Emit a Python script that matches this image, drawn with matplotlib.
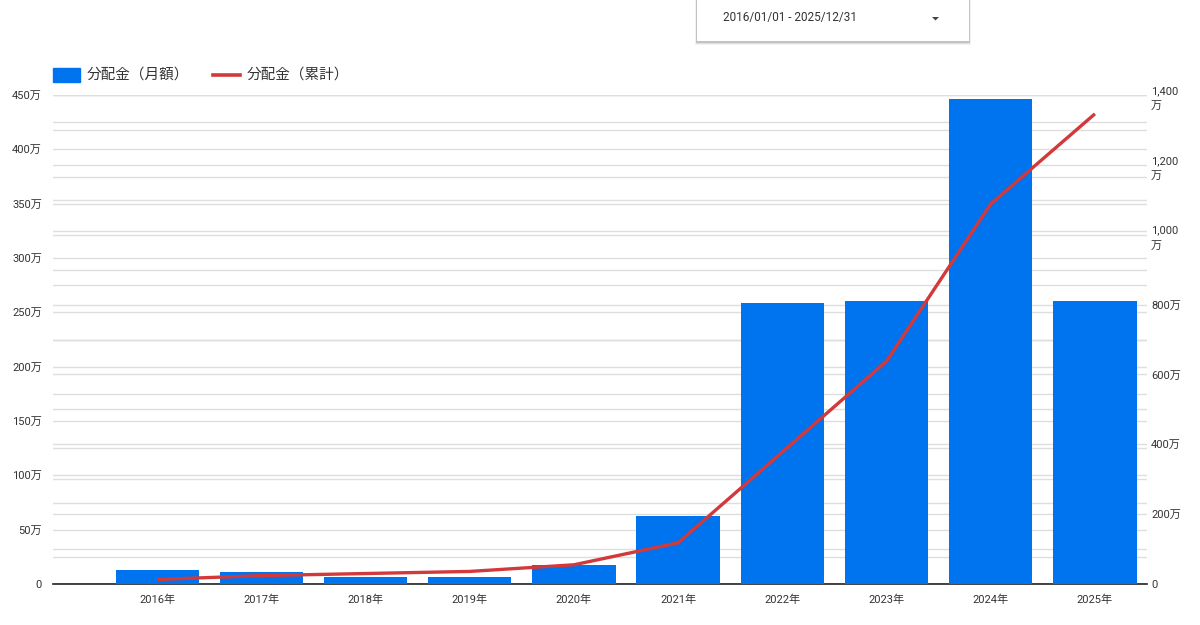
import matplotlib.pyplot as plt
from matplotlib.patches import Rectangle, Polygon
from matplotlib.ticker import MultipleLocator, FuncFormatter
import numpy as np

plt.rcParams['font.family'] = ['Roboto', 'Noto Sans CJK JP', 'DejaVu Sans']

# data (units: 万円)
years = ['2016年', '2017年', '2018年', '2019年', '2020年',
         '2021年', '2022年', '2023年', '2024年', '2025年']
monthly = [12.5, 11.5, 6, 6, 17.5, 62.5, 259, 260.5, 446, 260.5]
cumulative = [13, 24, 30, 36, 55, 118, 378, 638, 1088, 1346]
bar_label = '分配金（月額）'
line_label = '分配金（累計）'
date_range = '2016/01/01 - 2025/12/31'

BAR_COLOR = '#0073ee'
LINE_COLOR = '#d1393b'
GRID_COLOR = '#dedede'
TEXT_COLOR = '#333333'

fig = plt.figure(figsize=(12, 6.25), dpi=100)
rect = [53 / 1200, 1 - 584 / 625, (1147 - 53) / 1200, (584 - 95) / 625]

ax = fig.add_axes(rect)
ax2 = ax.twinx()   # right axis: grid + labels
ax3 = ax.twinx()   # right axis: line on top
ax2.set_zorder(1)
ax.set_zorder(2)
ax3.set_zorder(3)
for a in (ax, ax3):
    a.patch.set_visible(False)

x = np.arange(len(years))

# bars (left axis)
ax.bar(x, monthly, width=0.8, color=BAR_COLOR, zorder=3)
ax.set_xlim(-1, 9.5)
ax.set_ylim(0, 450)
ax.yaxis.set_major_locator(MultipleLocator(50))
ax.yaxis.set_minor_locator(MultipleLocator(25))
ax.yaxis.set_major_formatter(FuncFormatter(lambda v, p: '0' if v == 0 else f'{v:.0f}万'))
ax.grid(axis='y', which='both', color=GRID_COLOR, linewidth=1.0, zorder=0)
ax.set_axisbelow(True)
ax.set_xticks(x)
ax.set_xticklabels(years)
ax.tick_params(axis='x', length=0, pad=8, labelsize=8, labelcolor=TEXT_COLOR)
ax.tick_params(axis='y', which='both', length=0, pad=8, labelsize=8, labelcolor=TEXT_COLOR)

# right axis grid + labels
def right_fmt(v, p):
    if v == 0:
        return '0'
    if v >= 1000:
        return f'{v:,.0f}\n万'
    return f'{v:.0f}万'

ax2.set_ylim(0, 1400)
ax2.yaxis.set_major_locator(MultipleLocator(200))
ax2.yaxis.set_minor_locator(MultipleLocator(100))
ax2.yaxis.set_major_formatter(FuncFormatter(right_fmt))
ax2.grid(axis='y', which='both', color=GRID_COLOR, linewidth=1.0)
ax2.tick_params(axis='y', which='both', length=0, pad=3, labelsize=8, labelcolor=TEXT_COLOR)
for lbl in ax2.get_yticklabels():
    lbl.set_linespacing(1.6)

# cumulative line
ax3.set_ylim(0, 1400)
ax3.plot(x, cumulative, color=LINE_COLOR, linewidth=2.4, solid_capstyle='butt')
ax3.set_yticks([])

for a in (ax, ax2, ax3):
    for s in a.spines.values():
        s.set_visible(False)
ax.spines['bottom'].set_visible(True)
ax.spines['bottom'].set_color('#222222')
ax.spines['bottom'].set_linewidth(1.2)

# legend (top-left)
fig.patches.append(Rectangle((53 / 1200, 1 - 82 / 625), 27 / 1200, 14 / 625,
                             transform=fig.transFigure, color=BAR_COLOR))
fig.text(87 / 1200, 1 - 75 / 625, bar_label, fontsize=10.5, color=TEXT_COLOR,
         va='center', ha='left', family=['Noto Sans CJK JP'])
fig.lines.append(plt.Line2D([213 / 1200, 240 / 1200], [1 - 75 / 625] * 2,
                            transform=fig.transFigure, color=LINE_COLOR, linewidth=2.6))
fig.text(247 / 1200, 1 - 75 / 625, line_label, fontsize=10.5, color=TEXT_COLOR,
         va='center', ha='left', family=['Noto Sans CJK JP'])

# date range control box
for i, alpha in enumerate([0.05, 0.08, 0.12]):
    off = (3 - i) / 625
    fig.patches.append(Rectangle((697 / 1200 - 0.0005 * (3 - i), 1 - 42 / 625 - off),
                                 272 / 1200 + 0.001 * (3 - i), 42 / 625 + off,
                                 transform=fig.transFigure, color='#000000',
                                 alpha=alpha, linewidth=0))
fig.patches.append(Rectangle((697 / 1200, 1 - 41 / 625), 272 / 1200, 41 / 625,
                             transform=fig.transFigure, facecolor='white', linewidth=0))
fig.text(723 / 1200, 1 - 18 / 625, date_range, fontsize=8.5, color=TEXT_COLOR,
         va='center', ha='left')
tri = [(932 / 1200, 1 - 17 / 625), (939 / 1200, 1 - 17 / 625), (935.5 / 1200, 1 - 20.5 / 625)]
fig.patches.append(Polygon(tri, closed=True, transform=fig.transFigure,
                           color='#444444', linewidth=0))

fig.savefig('out.png', dpi=100, facecolor='white')
